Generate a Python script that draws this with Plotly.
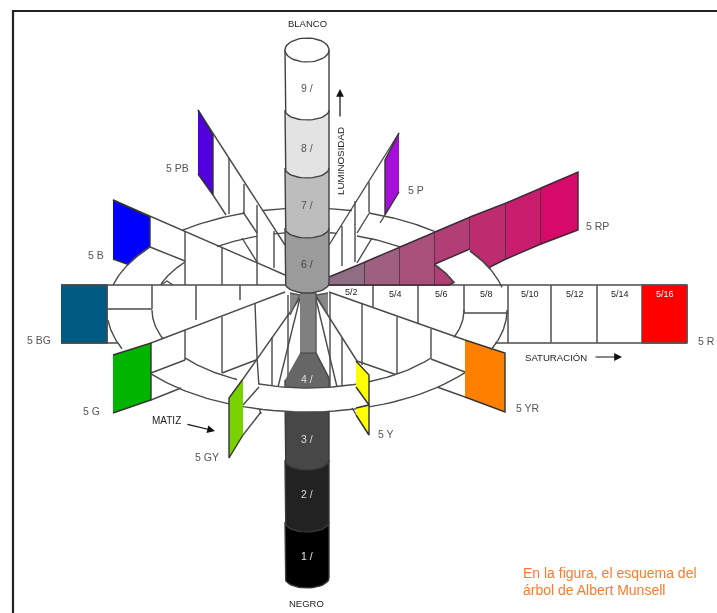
import math
import plotly.graph_objects as go

# ---- colour tree data (image pixel coordinates) ----
VALUE_LABELS = ["1 /", "2 /", "3 /", "4 /", "6 /", "7 /", "8 /", "9 /"]
VALUE_LABEL_Y = [556, 494, 439, 379, 264, 205, 148, 88]
VALUE_LABEL_COLOR = ["#e8e8e8", "#dddddd", "#dddddd", "#e0e0e0", "#444444", "#555555", "#555555", "#555555"]
BAND_TOP = [522, 460, 395, 228, 168, 110, 50]
BAND_BOTTOM = [578, 522, 460, 283, 228, 168, 110]
BAND_COLOR = ["#000000", "#222222", "#474747", "#9b9b9b", "#bdbdbd", "#e3e3e3", "#ffffff"]

CHROMA_LABELS = ["5/2", "5/4", "5/6", "5/8", "5/10", "5/12", "5/14", "5/16"]
CHROMA_X = [351, 395, 441, 486, 530, 575, 620, 665]
BAR_RIGHT_DIV = [[373, 308], [418, 323], [464, 313], [508, 343], [551, 343], [597, 343], [642, 343], [687, 343]]
BAR_LEFT_DIV = [[107, 343], [152, 309], [196, 320], [240, 300]]

HUE_LABELS = ["5 PB", "5 B", "5 BG", "5 G", "5 GY", "5 Y", "5 YR", "5 R", "5 RP", "5 P"]
HUE_X = [177, 96, 39, 91, 207, 386, 528, 706, 597, 416]
HUE_Y = [168, 255, 340, 411, 457, 434, 408, 341, 226, 190]

PANEL_BG = [[61, 285], [107, 285], [107, 343], [61, 343]]
PANEL_R = [[642, 285], [687, 285], [687, 343], [642, 343]]
PANEL_PB = [[198, 110], [213, 135], [213, 195], [198, 174]]
PANEL_P = [[399, 133], [385, 160], [385, 215], [399, 192]]
PANEL_G = [[113, 355], [151, 343], [151, 400], [113, 413]]
PANEL_GY = [[243, 379], [229, 398], [229, 458], [243, 435]]
PANEL_YR = [[465, 340], [505, 353], [505, 412], [465, 397]]
PANEL_Y_UP = [[356, 361], [369, 375], [369, 405], [356, 387]]
PANEL_Y_LOW = [[356, 408], [369, 405], [369, 435], [356, 415]]

RP_X = [329, 365, 400, 435, 470, 506, 541, 578]
RP_TOP = [277, 262, 247, 232, 217, 203, 188, 172]
RP_COLOR = ["#8f6d82", "#9e5f80", "#a8507a", "#b23e76", "#be2c70", "#c81d6c", "#d60a68"]

# ring: ellipses (cx, cy, rx, ry)
OUTER = (307, 310, 200, 102)
INNER = (308, 310, 156, 78)
OUTER_ARCS_TOP = [[113, 150], [182, 245], [263, 285], [329, 352], [370, 435], [470, 502]]
OUTER_ARCS_BOT = [[108, 122], [151, 229], [243, 465], [491, 507]]
INNER_ARCS_TOP = [[161, 185], [217, 257], [274, 285], [330, 337], [357, 400], [435, 454]]
INNER_ARCS_BOT = [[152, 163], [185, 237], [259, 356], [369, 431], [454, 464]]

ARM_LINES = [
    [[113, 200], [285, 275]], [[150, 247], [185, 261]],
    [[185, 231], [185, 285]], [[222, 247], [222, 285]], [[257, 205], [257, 285]],
    [[198, 110], [285, 245]], [[213, 195], [226, 215]], [[242, 238], [257, 262]],
    [[229, 158], [229, 214]], [[244, 184], [244, 212]], [[274, 231], [274, 268]],
    [[243, 212], [257, 233]], [[161, 285], [167, 281], [173, 285]],
    [[329, 245], [399, 133]], [[385, 215], [380, 223]], [[372, 238], [357, 263]],
    [[369, 182], [369, 212]], [[355, 201], [355, 262]], [[342, 226], [342, 266]],
    [[370, 212], [357, 233]],
    [[151, 343], [285, 292]], [[151, 373], [185, 360]], [[151, 400], [181, 388]],
    [[222, 373], [256, 360]], [[185, 330], [185, 360]], [[222, 317], [222, 373]],
    [[255, 303], [257, 357], [259, 387]],
    [[243, 379], [300, 298]], [[243, 435], [261, 412]],
    [[278, 387], [300, 298]], [[272, 337], [272, 387]], [[288, 295], [288, 378]],
    [[259, 408], [261, 414]],
    [[315, 295], [357, 361]], [[315, 295], [337, 387]],
    [[330, 293], [330, 388]], [[342, 338], [342, 387]],
    [[329, 292], [465, 340]], [[357, 361], [397, 375]],
    [[437, 387], [465, 397]], [[362, 303], [362, 365]], [[397, 317], [397, 375]],
    [[431, 329], [431, 359]],
    [[61, 285], [285, 285]], [[329, 285], [687, 285]], [[61, 343], [118, 343]],
    [[495, 343], [687, 343]], [[107, 309], [152, 309]], [[464, 313], [508, 313]],
]
RING_CROSS_LINES = [[[243, 405], [259, 387]], [[431, 359], [465, 372]], [[352, 408], [369, 435]]]

LINE = "#4a4a4a"
fig = go.Figure()


def trace(points, fill=None, line=LINE, width=1.4):
    xs = [p[0] for p in points]
    ys = [p[1] for p in points]
    fig.add_trace(go.Scatter(
        x=xs, y=ys, mode="lines", hoverinfo="skip", showlegend=False,
        fill="toself" if fill else None, fillcolor=fill,
        line=dict(color=line, width=width),
    ))


def arc(e, x0, x1, side):
    cx, cy, rx, ry = e
    sign = -1 if side == "top" else 1
    t0 = math.acos(max(-1, min(1, (x0 - cx) / rx)))
    t1 = math.acos(max(-1, min(1, (x1 - cx) / rx)))
    out = []
    for i in range(25):
        t = t0 + (t1 - t0) * i / 24
        out.append([cx + rx * math.cos(t), cy + sign * ry * math.sin(t)])
    return out


def bowl(x0, x1, y, depth):
    out = []
    for i in range(25):
        t = math.pi * i / 24
        out.append([(x0 + x1) / 2 - (x1 - x0) / 2 * math.cos(t), y + depth * math.sin(t)])
    return out


CYL_L, CYL_R = 285, 329

# frame
trace([[13, 613], [13, 11], [717, 11]], line="#222222", width=2.2)

# arm lines
for pts in ARM_LINES:
    trace(pts)
for xd, yb in BAR_LEFT_DIV + BAR_RIGHT_DIV:
    trace([[xd, 285], [xd, yb]], line="#5a5a5a", width=1.6)

# flat panels
trace(PANEL_BG, fill="#005a82")
trace(PANEL_R, fill="#ff0000", line="#555555")
trace(PANEL_PB, fill="#5000dc", line="#333333")
trace(PANEL_P, fill="#a50fd7", line="#333333")
trace(PANEL_G, fill="#00b400", line="#333333")
trace(PANEL_YR, fill="#ff8000", line="#333333")
trace([[113, 200], [150, 217], [150, 247]] + arc(OUTER, 150, 128, "top") + [[113, 259]],
      fill="#0000ff", line="#333333")

# RP arm (upper cells, lower cells cut by the ring)
for i in range(3):
    trace([[RP_X[i], RP_TOP[i]], [RP_X[i + 1], RP_TOP[i + 1]], [RP_X[i + 1], 285], [RP_X[i], 285]],
          fill=RP_COLOR[i], line="#3a2a35")
trace([[435, 232], [470, 217], [470, 249], [435, 264]], fill=RP_COLOR[3], line="#3a2a35")
trace([[435, 264]] + arc(INNER, 435, 454, "top") + [[449, 285], [435, 285]], fill=RP_COLOR[3], line="#3a2a35")
trace([[470, 217], [506, 203], [506, 259], [490, 267]] + arc(OUTER, 490, 470, "top"), fill=RP_COLOR[4], line="#3a2a35")
trace([[506, 203], [541, 188], [541, 244], [506, 259]], fill=RP_COLOR[5], line="#3a2a35")
trace([[541, 188], [578, 172], [578, 230], [541, 244]], fill=RP_COLOR[6], line="#3a2a35")

# dark lower column under the ring
trace([[300, 353], [316, 353], [329, 378], [329, 400], [285, 400], [285, 380]], fill="#666666", line="#444444")
for k in range(3):
    trace([[CYL_L, BAND_TOP[k]], [CYL_L, BAND_BOTTOM[k]]] + bowl(CYL_L, CYL_R, BAND_BOTTOM[k], 10)
          + [[CYL_R, BAND_TOP[k]]], fill=BAND_COLOR[k], line="#3a3a3a")

# narrow neck
trace([[290, 293], [300, 295], [290, 315]], fill="#888888", line="#555555")
trace([[328, 293], [316, 295], [328, 315]], fill="#888888", line="#555555")
trace([[300, 293], [316, 293], [316, 353], [300, 353]], fill="#808080", line="#555555")

# ring
trace(arc(OUTER, 243, 465, "bot") + arc(INNER, 431, 259, "bot"), fill="#ffffff", line="rgba(0,0,0,0)")
for a, b in OUTER_ARCS_TOP:
    trace(arc(OUTER, a, b, "top"))
for a, b in OUTER_ARCS_BOT:
    trace(arc(OUTER, a, b, "bot"))
for a, b in INNER_ARCS_TOP:
    trace(arc(INNER, a, b, "top"))
for a, b in INNER_ARCS_BOT:
    trace(arc(INNER, a, b, "bot"))
for pts in RING_CROSS_LINES:
    trace(pts)

trace(PANEL_Y_UP, fill="#ffff00", line="#333333")
trace(PANEL_Y_LOW, fill="#ffff00", line="#333333")
trace(PANEL_GY, fill="#78d200", line="#333333")

# upper cylinder
for k in range(3, 7):
    trace([[CYL_L, BAND_TOP[k]], [CYL_L, BAND_BOTTOM[k]]] + bowl(CYL_L, CYL_R, BAND_BOTTOM[k], 10)
          + [[CYL_R, BAND_TOP[k]]], fill=BAND_COLOR[k], line="#404040")
trace([[307 + 22 * math.cos(2 * math.pi * i / 48), 50 + 12 * math.sin(2 * math.pi * i / 48)] for i in range(49)],
      fill="#ffffff", line="#404040")

# text
FONT = "Liberation Sans, Arial, sans-serif"


def txt(x, y, s, size=10, color="#555555", angle=0, anchor="center"):
    fig.add_annotation(x=x, y=y, text=s, showarrow=False, xanchor=anchor, yanchor="middle",
                       textangle=angle, font=dict(family=FONT, size=size, color=color))


for s, y, c in zip(VALUE_LABELS, VALUE_LABEL_Y, VALUE_LABEL_COLOR):
    txt(307, y, s, size=10.5, color=c)
for s, x, y in zip(HUE_LABELS, HUE_X, HUE_Y):
    txt(x, y, s, size=10.5)
for i, (s, x) in enumerate(zip(CHROMA_LABELS, CHROMA_X)):
    txt(x, 292 if i == 0 else 294, s, size=9, color="#ffffff" if i == 7 else "#222222")
txt(307, 23, "BLANCO", size=9.5, color="#222222")
txt(306, 603, "NEGRO", size=9.5, color="#222222")
txt(166, 420, "MATIZ", size=10, color="#222222")
txt(556, 357, "SATURACIÓN", size=9.6, color="#222222")
txt(340, 161, "LUMINOSIDAD", size=9.8, color="#222222", angle=-90)
txt(521, 573, "En la figura, el esquema del", size=14, color="#ff7a2a", anchor="left")
txt(521, 590, "árbol de Albert Munsell", size=14, color="#ff7a2a", anchor="left")

ARROWS = [[186, 424, 215, 431], [594, 357, 622, 357], [340, 118, 340, 89]]
for x0, y0, x1, y1 in ARROWS:
    fig.add_annotation(x=x1, y=y1, ax=x0, ay=y0, xref="x", yref="y", axref="x", ayref="y", text="",
                       showarrow=True, arrowhead=2, arrowsize=1.3, arrowwidth=1.2, arrowcolor="#111111")

fig.update_layout(
    width=717, height=613, margin=dict(l=0, r=0, t=0, b=0),
    paper_bgcolor="#ffffff", plot_bgcolor="#ffffff", showlegend=False,
    xaxis=dict(range=[0, 717], visible=False, fixedrange=True),
    yaxis=dict(range=[613, 0], visible=False, fixedrange=True),
)
fig.write_html("out.html", config={"displayModeBar": False},
               post_script="document.body.style.margin='0';document.body.style.overflow='hidden';"
                           "document.querySelector('.plotly-graph-div').style.filter='blur(0.45px)';")
